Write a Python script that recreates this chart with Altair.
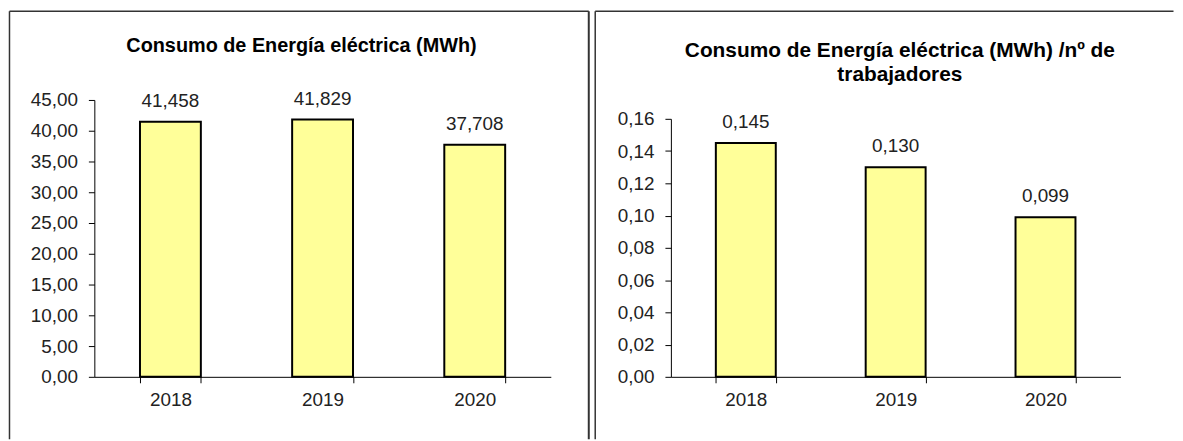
import altair as alt
import pandas as pd

# ---- data ----
years = ["2018", "2019", "2020"]
consumo_mwh = [41.458, 41.829, 37.708]
consumo_por_trabajador = [0.145, 0.130, 0.099]
left_ticks = [0, 5, 10, 15, 20, 25, 30, 35, 40, 45]
right_ticks = [0, 0.02, 0.04, 0.06, 0.08, 0.10, 0.12, 0.14, 0.16]
left_title = "Consumo  de  Energía  eléctrica  (MWh)"
right_title = ["Consumo de Energía eléctrica (MWh) /nº de", "trabajadores"]

FONT = "Liberation Sans"
FS = 19
TXT = "#222222"
BAR_FILL = "#FFFF99"
BORDER = "#333333"

LABEL_EXPR = "replace(format(datum.value, '.2f'), '.', ',')"
ONE = pd.DataFrame({"a": [0]})


def panel(values, ticks, ymax, width, height, yrange, title, title_pos, title_fs, border):
    df = pd.DataFrame({"year": years, "v": values})
    x = alt.X(
        "year:N", sort=years, title=None,
        scale=alt.Scale(paddingInner=0.6, paddingOuter=0.3),
        axis=alt.Axis(
            labelAngle=0, tickBand="extent", domainColor="black", tickColor="black",
            tickSize=6, labelPadding=8, labelFont=FONT, labelFontSize=FS,
            labelColor=TXT, grid=False,
        ),
    )
    if yrange is not None:
        yscale = alt.Scale(domain=[0, ymax], nice=False, zero=True, range=yrange)
    else:
        yscale = alt.Scale(domain=[0, ymax], nice=False, zero=True)
    y = alt.Y(
        "v:Q", title=None, scale=yscale,
        axis=alt.Axis(
            values=ticks, labelExpr=LABEL_EXPR, domainColor="black", tickColor="black",
            tickSize=6, labelPadding=11, labelFont=FONT, labelFontSize=FS,
            labelColor=TXT, grid=False,
        ),
    )
    bars = alt.Chart(df).mark_bar(fill=BAR_FILL, stroke="black", strokeWidth=2).encode(x=x, y=y)
    labels = (
        alt.Chart(df)
        .transform_calculate(lab="replace(format(datum.v, '.3f'), '.', ',')")
        .mark_text(dy=-15, baseline="alphabetic", font=FONT, fontSize=FS, color=TXT)
        .encode(x=x, y=y, text="lab:N")
    )
    tx, ty = title_pos
    title_mark = (
        alt.Chart(ONE)
        .mark_text(font=FONT, fontSize=title_fs, fontWeight="bold", color="black",
                   align="center", baseline="alphabetic", lineHeight=24)
        .encode(x=alt.value(tx), y=alt.value(ty), text=alt.value(title))
    )
    bl, bt, br, bb, right_w = border
    layers = [bars, labels, title_mark]
    layers.append(
        alt.Chart(ONE).mark_rule(color=BORDER, strokeWidth=1.5)
        .encode(x=alt.value(bl), y=alt.value(bt), y2=alt.value(bb))
    )
    layers.append(
        alt.Chart(ONE).mark_rule(color=BORDER, strokeWidth=1.5)
        .encode(x=alt.value(bl), x2=alt.value(br), y=alt.value(bt))
    )
    if right_w:
        layers.append(
            alt.Chart(ONE).mark_rule(color=BORDER, strokeWidth=right_w)
            .encode(x=alt.value(br), y=alt.value(bt), y2=alt.value(bb))
        )
    return alt.layer(*layers).properties(width=width, height=height)


left = panel(
    consumo_mwh, left_ticks, 45, 460, 279, None,
    left_title, (208.75, -48.5), 20,
    (-85.5, -89.5, 498.25, 342, 2),
)

right = panel(
    consumo_por_trabajador, right_ticks, 0.16, 453, 279, [279, 19],
    right_title, (230.75, -43), 21,
    (-76.25, -89.5, 506.5, 342, 0),
)

chart = (
    alt.hconcat(left, right, spacing=121, bounds="flush")
    .configure_view(strokeWidth=0)
    .properties(padding=0, background="white")
)

chart.save("out.html", embed_options={"renderer": "svg", "actions": False})
